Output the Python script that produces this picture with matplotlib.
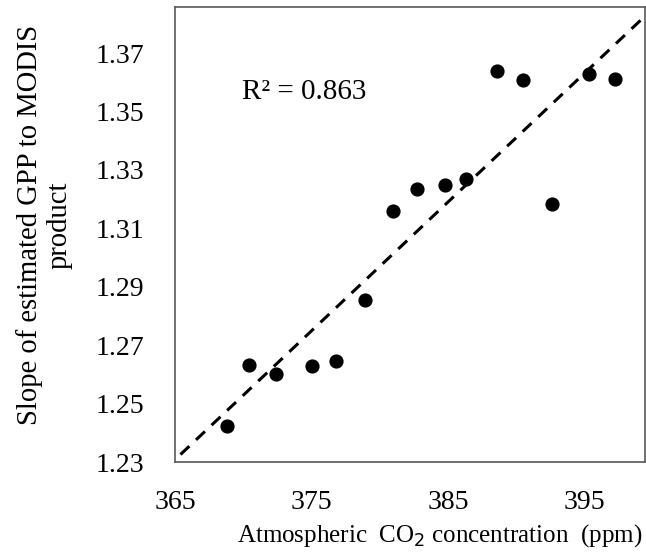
import numpy as np
import matplotlib
matplotlib.use("Agg")
import matplotlib.pyplot as plt

co2_ppm = [368.8, 370.4, 372.4, 375.0, 376.8, 378.9, 381.0, 382.7,
           384.8, 386.3, 388.6, 390.5, 392.6, 395.3, 397.2]
gpp_slope = [1.2424, 1.2633, 1.2601, 1.2628, 1.2647, 1.2854, 1.3158, 1.3235,
             1.3250, 1.3269, 1.3639, 1.3607, 1.3183, 1.3628, 1.3611]
x_ticks = [365, 375, 385, 395]
y_ticks = [1.23, 1.25, 1.27, 1.29, 1.31, 1.33, 1.35, 1.37]
r2_text = "R² = 0.863"

plt.rcParams['font.family'] = ['Liberation Serif', 'DejaVu Serif']

fig = plt.figure(figsize=(6.46, 5.56), dpi=100)
ax = fig.add_axes([0.2709, 0.169, 0.728, 0.8185])

ax.scatter(co2_ppm, gpp_slope, s=85, color='black', zorder=3)

# linear trend line
slope, intercept = np.polyfit(co2_ppm, gpp_slope, 1)
xs = np.array([365.4, 400.0])
ax.plot(xs, slope * xs + intercept, linestyle=(0, (4, 3)), color='black', linewidth=2.2)

ax.text(369.9, 1.3566, r2_text, fontsize=21, va='center', ha='left')

ax.set_xlim(365, 399.45)
ax.set_ylim(1.23, 1.3858)
ax.set_xticks(x_ticks)
ax.set_yticks(y_ticks)
ax.set_yticklabels([f"{v:.2f}" for v in y_ticks])
ax.tick_params(axis='both', length=0, labelsize=20)
ax.tick_params(axis='x', pad=20)
ax.tick_params(axis='y', pad=22)

ax.set_xlabel("Atmospheric  CO$_2$ concentration  (ppm)", fontsize=18, va='center')
ax.xaxis.set_label_coords(0.562, -0.162)
ax.set_ylabel("Slope of estimated GPP to MODIS\nproduct", fontsize=20.6, va='center',
              linespacing=1.2)
ax.yaxis.set_label_coords(-0.278, 0.521)

for sp in ax.spines.values():
    sp.set_color('#595959')
    sp.set_linewidth(1.2)

fig.savefig("out.png", dpi=100)
